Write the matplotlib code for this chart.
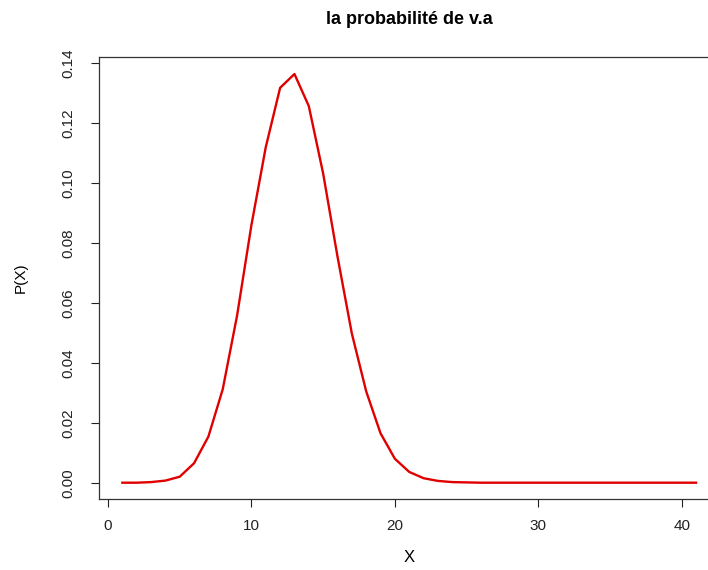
"""
Recreation of an R-style plot: la probabilité de v.a
"""

import matplotlib
matplotlib.use("Agg")
import matplotlib.pyplot as plt

plt.rcParams.update({
    "font.family": ["Liberation Sans", "DejaVu Sans"],
    "font.size": 11,
})

# values
x_vals = list(range(1, 42))
p_vals = [
    0.0000, 0.0000, 0.0002, 0.0007, 0.0020, 0.0065, 0.0154, 0.0312, 0.0558,
    0.0860, 0.1120, 0.1318, 0.1364, 0.1257, 0.1032, 0.0755, 0.0498, 0.0305,
    0.0165, 0.0080, 0.0036, 0.0015, 0.0006, 0.0002, 0.0001,
    0.0000, 0.0000, 0.0000, 0.0000, 0.0000, 0.0000, 0.0000, 0.0000, 0.0000,
    0.0000, 0.0000, 0.0000, 0.0000, 0.0000, 0.0000, 0.0000,
]
x_ticks = [0, 10, 20, 30, 40]
y_ticks = [0.00, 0.02, 0.04, 0.06, 0.08, 0.10, 0.12, 0.14]

W, H = 708, 570
fig = plt.figure(figsize=(W / 100, H / 100), dpi=100)
# axes box runs past the right edge of the picture, as in the reference
left, right, top, bottom = 99.4, 719.0, 56.7, 499.3
ax = fig.add_axes([left / W, 1 - bottom / H, (right - left) / W, (bottom - top) / H])

ax.plot(x_vals, p_vals, "-", color="#e00000", linewidth=1.7)

ax.set_xlim(-0.6, 42.6)
ax.set_ylim(-0.00554, 0.14218)
ax.set_xticks(x_ticks)
ax.set_xticklabels([str(t) for t in x_ticks])
ax.set_yticks(y_ticks)
ax.set_yticklabels([f"{t:.2f}" for t in y_ticks], rotation=90, va="center")
ax.tick_params(axis="both", length=5.5, width=0.8, colors="#222222", labelsize=11)
ax.tick_params(axis="x", pad=9)
ax.tick_params(axis="y", pad=12)
for sp in ax.spines.values():
    sp.set_color("#333333")
    sp.set_linewidth(0.9)

ax.set_xlabel("X", fontsize=12, labelpad=12)
ax.set_ylabel("P(X)", fontsize=11, labelpad=24)
fig.text((left + right) / 2 / W, 1 - 20 / H, "la probabilité de v.a",
         ha="center", va="center", fontsize=13, fontweight="bold")

fig.savefig("out.png", dpi=100)
